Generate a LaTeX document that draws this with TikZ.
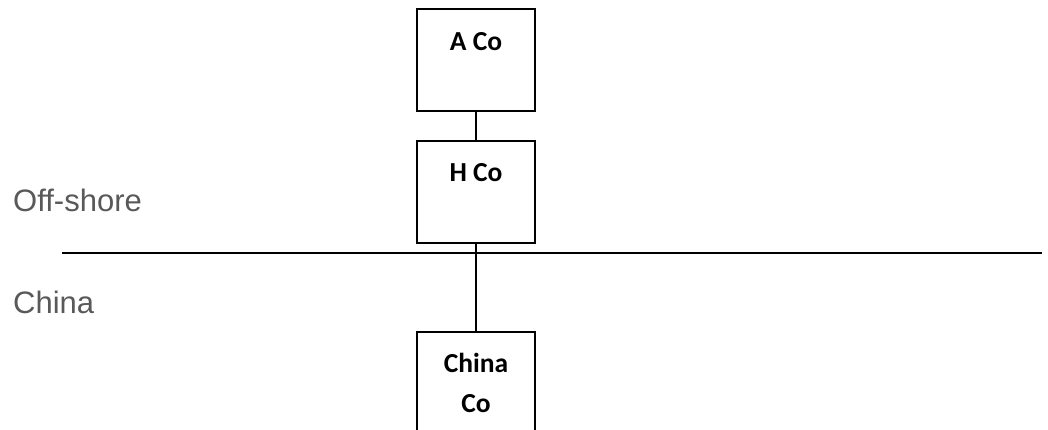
\documentclass[tikz,border=0pt]{standalone}
\usepackage{fontspec}
\newfontfamily\boxfont{Carlito}
\newfontfamily\labfont[Ligatures=NoCommon]{Liberation Sans}
\definecolor{labgray}{HTML}{595959}
\begin{document}
\begin{tikzpicture}[x=1pt,y=-1pt,
  cobox/.style={draw=black, line width=2pt, minimum width=118pt, minimum height=102pt, inner sep=0pt},
  cotext/.style={font=\boxfont\bfseries\fontsize{27.5}{40}\selectfont, anchor=base, align=center, inner sep=0pt},
  sidelabel/.style={font=\labfont\fontsize{31}{36}\selectfont, text=labgray, anchor=base west, inner sep=0pt},
  link/.style={draw=black, line width=2pt}]
\useasboundingbox (0,0) rectangle (1048,430);
\node[cobox] (A) at (476,60) {};
\node[cobox] (H) at (476,192) {};
\node[cobox] (C) at (476,383) {};
\node[cotext] (At) at ([yshift=-43pt]A.north) {A Co};
\node[cotext] (Ht) at ([yshift=-42pt]H.north) {H Co};
\node[cotext] (Ct) at ([yshift=-81pt]C.north) {China\\Co};
\draw[link] (A.south) -- (H.north);
\draw[link] (H.south) -- (C.north);
\coordinate (L) at (62,253);
\coordinate (R) at (1042,253);
\draw[link] (L) -- (R);
\node[sidelabel] (off) at (13,212) {Off-shore};
\node[sidelabel] (ch) at (13,313) {China};
\end{tikzpicture}
\end{document}
